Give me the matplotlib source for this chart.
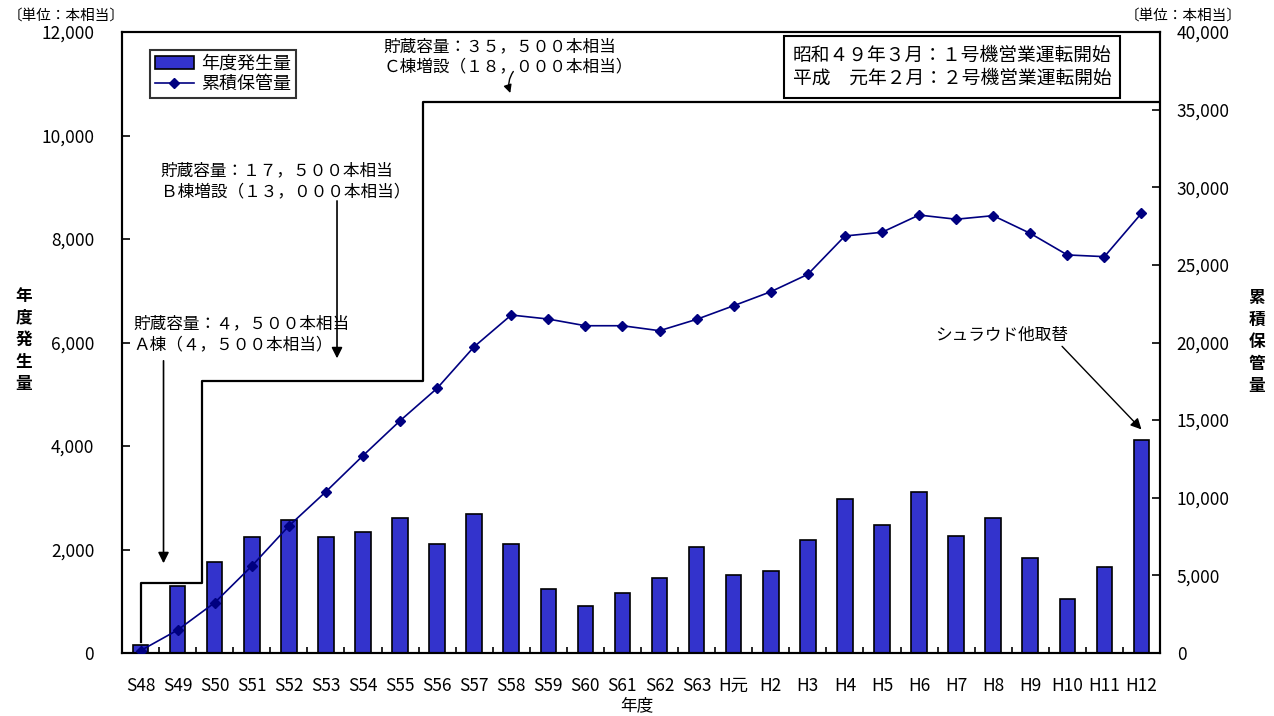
import matplotlib
matplotlib.use("Agg")
import matplotlib.pyplot as plt
import numpy as np
from matplotlib.patches import Patch
from matplotlib.lines import Line2D
from matplotlib.ticker import FuncFormatter

plt.rcParams['font.family'] = ['Noto Sans CJK JP', 'DejaVu Sans']

years = ["S48", "S49", "S50", "S51", "S52", "S53", "S54", "S55", "S56", "S57",
         "S58", "S59", "S60", "S61", "S62", "S63", "H元", "H2", "H3", "H4",
         "H5", "H6", "H7", "H8", "H9", "H10", "H11", "H12"]
# 年度発生量（本相当）
annual = [150, 1300, 1750, 2250, 2570, 2250, 2330, 2610, 2100, 2690,
          2100, 1230, 900, 1160, 1440, 2050, 1510, 1580, 2180, 2980,
          2470, 3120, 2260, 2610, 1840, 1040, 1660, 4120]
# 累積保管量（本相当）
stored = [150, 1480, 3240, 5600, 8180, 10390, 12710, 14960, 17050, 19730,
          21770, 21510, 21080, 21080, 20760, 21490, 22370, 23270, 24390, 26860,
          27100, 28210, 27940, 28170, 27030, 25640, 25530, 28320]
# 貯蔵容量の推移（A棟→B棟増設→C棟増設）
cap_x = [0, 0, 1.67, 1.67, 7.63, 7.63, 27.5]
cap_y = [700, 4500, 4500, 17500, 17500, 35500, 35500]

x = np.arange(len(years))

fig = plt.figure(figsize=(12.74, 7.16), dpi=100)
ax = fig.add_axes([122/1274, 1-653/716, (1160-122)/1274, (653-32)/716])
ax2 = ax.twinx()

bar_color = "#3333CC"
line_color = "#000080"

ax.bar(x, annual, width=0.42, color=bar_color, edgecolor="black", linewidth=1.2, zorder=2)
ax.set_xlim(-0.5, len(years) - 0.5)
ax.set_ylim(0, 12000)
ax.set_yticks(np.arange(0, 12001, 2000))
ax2.set_ylim(0, 40000)
ax2.set_yticks(np.arange(0, 40001, 5000))

fmt = FuncFormatter(lambda v, p: f"{int(v):,}")
ax.yaxis.set_major_formatter(fmt)
ax2.yaxis.set_major_formatter(fmt)

ax2.plot(x, stored, color=line_color, lw=1.2, marker="D", markersize=5, zorder=4)
ax2.plot(cap_x, cap_y, color="black", lw=1.6, zorder=3)

# 軸まわり
ax.set_xticks(x)
ax.set_xticklabels(years, fontsize=12.5)
ax.set_xticks(np.arange(-0.5, len(years), 1), minor=True)
ax.tick_params(axis="x", which="major", length=0, pad=17)
ax.tick_params(axis="x", which="minor", direction="in", length=4, width=1.2)
ax.tick_params(axis="y", direction="in", length=6, width=1.2, labelsize=12.5, pad=20)
ax2.tick_params(axis="y", direction="in", length=6, width=1.2, labelsize=12.5, pad=12)
for a in (ax, ax2):
    for s in a.spines.values():
        s.set_linewidth(1.5)

fig.text(637/1274, 1-706/716, "年度", ha="center", va="center", fontsize=12)
fig.text(24/1274, 1-340/716, "年\n度\n発\n生\n量", ha="center", va="center",
         fontsize=12, linespacing=1.3, fontweight="bold")
fig.text(1257/1274, 1-342/716, "累\n積\n保\n管\n量", ha="center", va="center",
         fontsize=12, linespacing=1.3, fontweight="bold")
fig.text(8/1274, 1-16/716, "〔単位：本相当〕", ha="left", va="center", fontsize=10.5)
fig.text(1242/1274, 1-16/716, "〔単位：本相当〕", ha="right", va="center", fontsize=10.5)

# 凡例
handles = [Patch(facecolor=bar_color, edgecolor="black", linewidth=1.2),
           Line2D([0], [0], color=line_color, lw=1.2, marker="D", markersize=5)]
leg = fig.legend(handles, ["年度発生量", "累積保管量"], loc="upper left",
                 bbox_to_anchor=(150/1274, 1-50/716), fontsize=13, frameon=True,
                 fancybox=False, edgecolor="black", handlelength=2.2, handletextpad=0.4,
                 borderpad=0.25, labelspacing=0.15, borderaxespad=0)
leg.get_frame().set_linewidth(1.5)

# 運転開始の注記
fig.text(952/1274, 1-67/716, "昭和４９年３月：１号機営業運転開始\n平成　元年２月：２号機営業運転開始",
         ha="center", va="center", fontsize=13.5, linespacing=1.15,
         bbox=dict(boxstyle="square,pad=0.45", facecolor="white", edgecolor="black", linewidth=1.5))

# 貯蔵容量の注記
arrow = dict(arrowstyle="-|>", color="black", lw=1.2, mutation_scale=16)
ax2.annotate("貯蔵容量：４，５００本相当\nＡ棟（４，５００本相当）",
             xy=(0.62, 5600), xytext=(-0.19, 20550), textcoords="data",
             ha="left", va="center", fontsize=12, linespacing=1.3)
ax2.annotate("", xy=(0.62, 5600), xytext=(0.62, 19000), arrowprops=arrow)
ax2.annotate("貯蔵容量：１７，５００本相当\nＢ棟増設（１３，０００本相当）",
             xy=(5.3, 18800), xytext=(0.54, 30400), textcoords="data",
             ha="left", va="center", fontsize=12, linespacing=1.3)
ax2.annotate("", xy=(5.3, 18800), xytext=(5.3, 29300), arrowprops=arrow)
ax2.annotate("貯蔵容量：３５，５００本相当\nＣ棟増設（１８，０００本相当）",
             xy=(10, 36100), xytext=(6.55, 38400), textcoords="data",
             ha="left", va="center", fontsize=12, linespacing=1.3)
ax2.annotate("", xy=(10.0, 35900), xytext=(10.1, 37600),
             arrowprops=dict(arrowstyle="-|>", color="black", lw=1.0, mutation_scale=12,
                             connectionstyle="arc3,rad=0.3"))
ax2.annotate("シュラウド他取替", xy=(27, 14400), xytext=(21.45, 20480),
             ha="left", va="center", fontsize=12,
             arrowprops=dict(arrowstyle="-|>", color="black", lw=1.0, mutation_scale=16,
                             shrinkA=0, shrinkB=0, relpos=(0.93, 0.0)))

fig.savefig("out.png", dpi=100)
